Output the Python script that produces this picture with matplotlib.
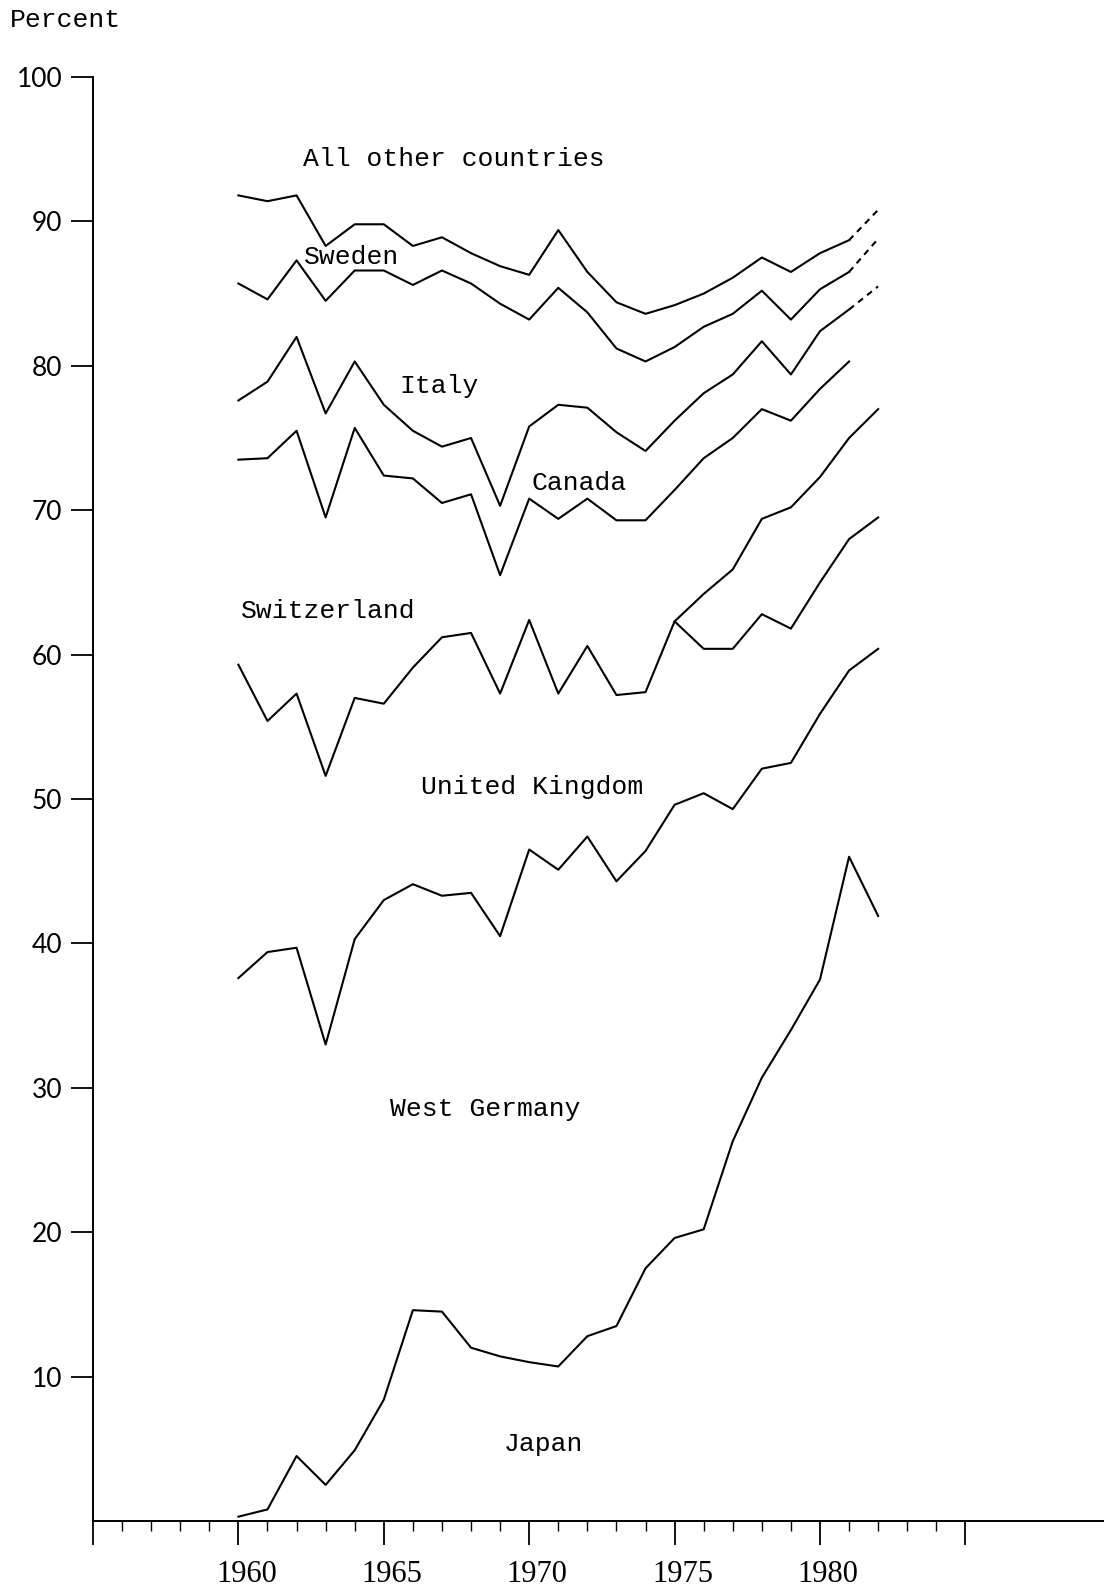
"""Cumulative country shares, 1960-1982, redrawn as a line chart."""

import matplotlib
matplotlib.use("Agg")
import matplotlib.pyplot as plt
import matplotlib.transforms as mtransforms
from matplotlib.ticker import FixedLocator, FixedFormatter

# --- data: cumulative percent, upper boundary of each labelled band ---
years = list(range(1960, 1983))

japan = [0.3, 0.8, 4.5, 2.5, 4.9, 8.4, 14.6, 14.5, 12.0, 11.4, 11.0, 10.7,
         12.8, 13.5, 17.5, 19.6, 20.2, 26.3, 30.7, 34.0, 37.5, 46.0, 41.9]
west_germany = [37.6, 39.4, 39.7, 33.0, 40.3, 43.0, 44.1, 43.3, 43.5, 40.5,
                46.5, 45.1, 47.4, 44.3, 46.4, 49.6, 50.4, 49.3, 52.1, 52.5,
                55.9, 58.9, 60.4]
united_kingdom = [59.3, 55.4, 57.3, 51.6, 57.0, 56.6, 59.1, 61.2, 61.5, 57.3,
                  62.4, 57.3, 60.6, 57.2, 57.4, 62.3, 60.4, 60.4, 62.8, 61.8,
                  65.0, 68.0, 69.5]
# second boundary that splits off from the UK line in 1975
branch_years = list(range(1975, 1983))
branch = [62.3, 64.2, 65.9, 69.4, 70.2, 72.3, 75.0, 77.0]
switzerland_years = list(range(1960, 1982))
switzerland = [73.5, 73.6, 75.5, 69.5, 75.7, 72.4, 72.2, 70.5, 71.1, 65.5,
               70.8, 69.4, 70.8, 69.3, 69.3, 71.4, 73.6, 75.0, 77.0, 76.2,
               78.4, 80.3]
canada = [77.6, 78.9, 82.0, 76.7, 80.3, 77.3, 75.5, 74.4, 75.0, 70.3, 75.8,
          77.3, 77.1, 75.4, 74.1, 76.2, 78.1, 79.4, 81.7, 79.4, 82.4, 83.9,
          85.5]
italy = [85.7, 84.6, 87.3, 84.5, 86.6, 86.6, 85.6, 86.6, 85.7, 84.3, 83.2,
         85.4, 83.7, 81.2, 80.3, 81.3, 82.7, 83.6, 85.2, 83.2, 85.3, 86.5,
         88.8]
sweden = [91.8, 91.4, 91.8, 88.3, 89.8, 89.8, 88.3, 88.9, 87.8, 86.9, 86.3,
          89.4, 86.5, 84.4, 83.6, 84.2, 85.0, 86.1, 87.5, 86.5, 87.8, 88.7,
          90.8]

band_labels = ["All other countries", "Sweden", "Italy", "Canada",
               "Switzerland", "United Kingdom", "West Germany", "Japan"]
year_ticks = [1955, 1960, 1965, 1970, 1975, 1980, 1985]
year_labels = ["", "1960", "1965", "1970", "1975", "1980", ""]
pct_ticks = [10, 20, 30, 40, 50, 60, 70, 80, 90, 100]

mono = "Liberation Mono"
LW = 1.5

fig = plt.figure(figsize=(11.04, 15.88), dpi=100)
ax = fig.add_axes([93 / 1104, 67 / 1588, 1011 / 1104, 1444 / 1588])

# solid lines
for ys in (japan, west_germany, united_kingdom):
    ax.plot(years, ys, color="black", lw=LW)
ax.plot(branch_years, branch, color="black", lw=LW)
ax.plot(switzerland_years, switzerland, color="black", lw=LW)

# the top three lines have a broken last segment
for ys in (canada, italy, sweden):
    ax.plot(years[:-1], ys[:-1], color="black", lw=LW)
    ax.plot(years[-2:], ys[-2:], color="black", lw=LW, dashes=(3, 2.5))

# band labels
label_pos = [(1967.4, 94.3), (1963.9, 87.5), (1966.9, 78.6), (1971.7, 71.9),
             (1963.1, 63.0), (1970.1, 50.8), (1968.5, 28.5), (1970.5, 5.3)]
for text, (x, y) in zip(band_labels, label_pos):
    ax.text(x, y, text, family=mono, fontsize=19, ha="center", va="center")

fig.text(10 / 1104, 1 - 20 / 1588, "Percent", family=mono, fontsize=19,
         ha="left", va="center")

# axes
ax.set_xlim(1955, 1955 + 1011 / 29.08)
ax.set_ylim(0, 100)
for side in ("top", "right"):
    ax.spines[side].set_visible(False)
for side in ("left", "bottom"):
    ax.spines[side].set_linewidth(1.4)

ax.xaxis.set_major_locator(FixedLocator(year_ticks))
ax.xaxis.set_major_formatter(FixedFormatter(year_labels))
ax.xaxis.set_minor_locator(FixedLocator([y for y in range(1956, 1985) if y % 5]))
ax.set_yticks(pct_ticks)
ax.set_yticklabels([str(p) for p in pct_ticks])

ax.tick_params(axis="x", which="major", direction="out", length=17, width=1.3,
               pad=11, labelsize=22)
ax.tick_params(axis="x", which="minor", direction="out", length=7, width=1.0)
ax.tick_params(axis="y", which="major", direction="out", length=16, width=1.3,
               pad=6, labelsize=19)

# year labels sit a little right of their ticks in the original
shift = mtransforms.ScaledTranslation(8 / 100, 0, fig.dpi_scale_trans)
for lab in ax.get_xticklabels():
    lab.set_family("Liberation Serif")
    lab.set_transform(lab.get_transform() + shift)
for lab in ax.get_yticklabels():
    lab.set_family("Lato")

fig.savefig("out.png", dpi=100, facecolor="white")
